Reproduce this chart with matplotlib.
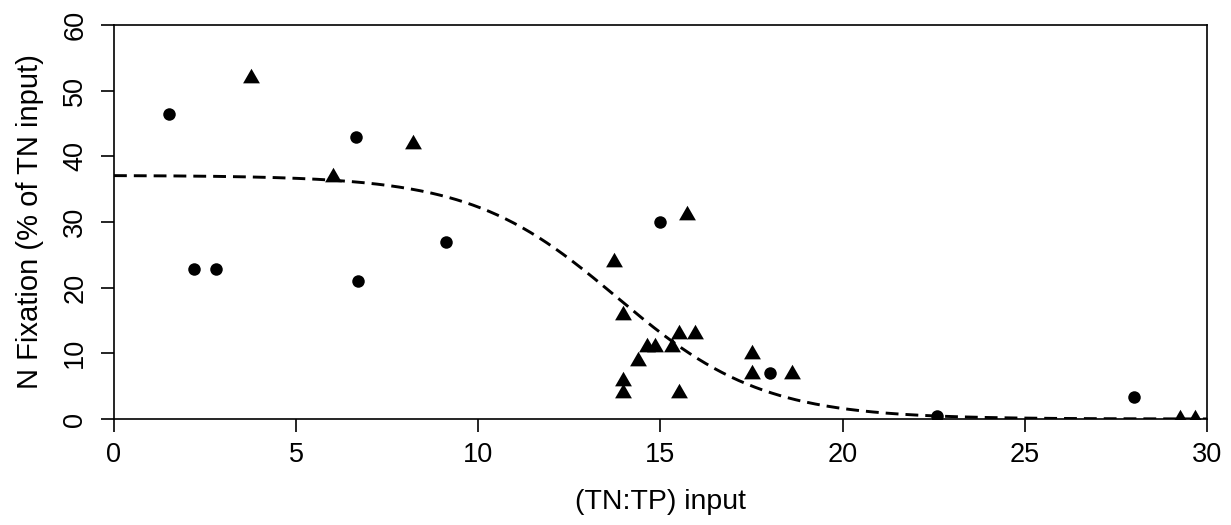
import matplotlib
matplotlib.use('Agg')
import matplotlib.pyplot as plt
import numpy as np

# circles
circ_x = [1.5, 2.2, 2.8, 6.65, 6.7, 9.1, 15.0, 18.0, 22.6, 28.0]
circ_y = [46.5, 22.9, 22.9, 43.0, 21.0, 27.0, 30.0, 7.0, 0.5, 3.4]

# triangles
tri_x = [3.77, 6.0, 8.2, 13.73, 13.96, 13.96, 13.96, 14.39, 14.62, 14.85,
         15.31, 15.51, 15.51, 15.72, 15.95, 17.5, 17.5, 18.6, 29.25, 29.66]
tri_y = [51.9, 36.9, 41.9, 23.9, 15.9, 5.8, 3.9, 8.9, 11.0, 11.0,
         11.0, 12.9, 3.9, 31.0, 12.9, 9.9, 6.9, 6.9, 0.0, 0.0]

# fitted logistic curve parameters
fit_top = 37.1
fit_mid = 13.8
fit_scale = 2.0

xticks = [0, 5, 10, 15, 20, 25, 30]
yticks = [0, 10, 20, 30, 40, 50, 60]

plt.rcParams['font.family'] = ['Liberation Sans', 'DejaVu Sans']

fig = plt.figure(figsize=(12.31, 5.25), dpi=100)
ax = fig.add_axes([0.0926, 0.2019, 0.8879, 0.7505])

xc = np.linspace(0, 30, 400)
yc = fit_top / (1 + np.exp((xc - fit_mid) / fit_scale))
ax.plot(xc, yc, color='black', lw=2.1, dashes=(4.4, 2.4))

ax.plot(circ_x, circ_y, 'o', color='black', ms=9, mew=0)
tri = [(-1, -0.577), (1, -0.577), (0, 1.155)]
ax.plot(tri_x, tri_y, linestyle='none', marker=tri, color='black', ms=14, mew=0)

ax.set_xlim(0, 30)
ax.set_ylim(0, 60)
ax.set_xticks(xticks)
ax.set_yticks(yticks)
for s in ax.spines.values():
  s.set_linewidth(1.2)
ax.tick_params(direction='out', length=9.5, width=1.2, labelsize=19.5)
ax.tick_params(axis='x', pad=7)
ax.tick_params(axis='y', pad=9)
for lbl in ax.get_yticklabels():
  lbl.set_rotation(90)
  lbl.set_va('center')

ax.set_xlabel('(TN:TP) input', fontsize=20.5, labelpad=15)
ax.set_ylabel('N Fixation (% of TN input)', fontsize=21, labelpad=13)

fig.savefig('out.png', dpi=100)
